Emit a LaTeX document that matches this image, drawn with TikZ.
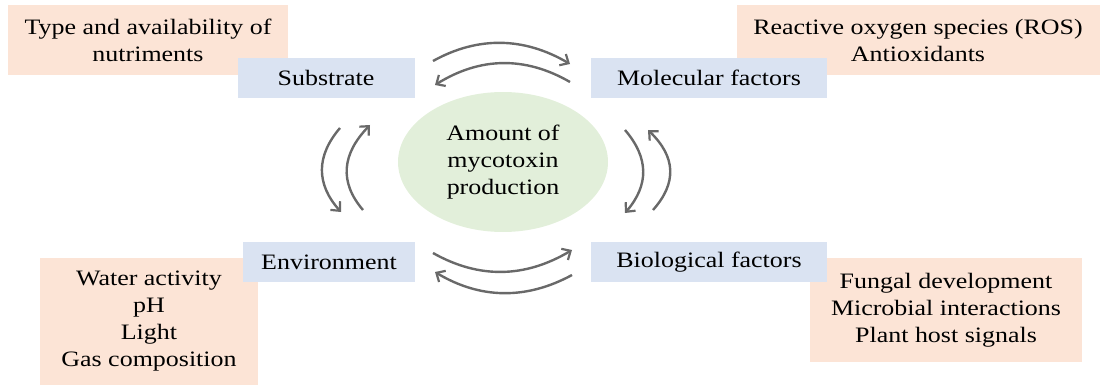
\documentclass[tikz,border=0pt]{standalone}
\usepackage{fontspec}
\setmainfont[FakeStretch=1.18]{Liberation Serif}
\usetikzlibrary{shapes,arrows.meta,calc}

\definecolor{peach}{RGB}{252,228,214}
\definecolor{paleblue}{RGB}{218,227,242}
\definecolor{palegreen}{RGB}{226,239,218}
\definecolor{arrowgray}{RGB}{105,105,105}

\tikzset{
  factor/.style={rectangle, fill=paleblue, inner sep=0pt, align=center},
  detail/.style={rectangle, fill=peach, inner sep=0pt, align=center},
  link/.style={draw=arrowgray, line width=2.4pt, -{Straight Barb[length=7pt, width=13pt, line width=2.2pt]}}
}

\begin{document}
\begin{tikzpicture}[x=1pt, y=-1pt, font=\fontsize{22}{27}\selectfont]
      \useasboundingbox (0,0) rectangle (1103,385);
      \node [detail, minimum width=280pt, minimum height=70pt] (nutriments) at (148,40) {Type and availability of\\nutriments};
      \node [detail, minimum width=363pt, minimum height=70pt] (ros) at (918,40) {Reactive oxygen species (ROS)\\Antioxidants};
      \node [detail, minimum width=218pt, minimum height=127pt] (abiotic) at (149,321) {Water activity\\pH\\Light\\Gas composition};
      \node [detail, minimum width=272pt, minimum height=104pt] (biotic) at (946,310) {Fungal development\\Microbial interactions\\Plant host signals};
      \node [factor, minimum width=177pt, minimum height=40pt] (substrate) at (326,78) {Substrate};
      \node [factor, minimum width=236pt, minimum height=40pt] (molecular) at (709,78) {Molecular factors};
      \node [factor, minimum width=172pt, minimum height=40pt] (environment) at (329,262) {Environment};
      \node [factor, minimum width=236pt, minimum height=40pt] (biological) at (709,262) {Biological factors};
      \node [ellipse, fill=palegreen, minimum width=210pt, minimum height=140pt, inner sep=0pt, align=center] (mycotoxin) at (503,162) {Amount of\\mycotoxin\\production};
      \coordinate (sm1) at (433,61);  \coordinate (sm2) at (570,64);
      \coordinate (ms1) at (570,82);  \coordinate (ms2) at (435,85);
      \coordinate (se1) at (340,128); \coordinate (se2) at (341,212);
      \coordinate (es1) at (363,210); \coordinate (es2) at (370,125);
      \coordinate (mb1) at (625,130); \coordinate (mb2) at (625,213);
      \coordinate (bm1) at (653,210); \coordinate (bm2) at (648,130);
      \coordinate (eb1) at (433,253); \coordinate (eb2) at (572,250);
      \coordinate (be1) at (572,275); \coordinate (be2) at (435,272);
      \draw [link] (sm1) .. controls (478,36) and (524,37) .. (sm2);
      \draw [link] (ms1) .. controls (525,56) and (480,57) .. (ms2);
      \draw [link] (se1) .. controls (316,156) and (316,184) .. (se2);
      \draw [link] (es1) .. controls (339,182) and (342,154) .. (es2);
      \draw [link] (mb1) .. controls (649,158) and (649,185) .. (mb2);
      \draw [link] (bm1) .. controls (677,183) and (676,157) .. (bm2);
      \draw [link] (eb1) .. controls (479,279) and (525,278) .. (eb2);
      \draw [link] (be1) .. controls (526,300) and (480,299) .. (be2);
    \end{tikzpicture}
\end{document}
